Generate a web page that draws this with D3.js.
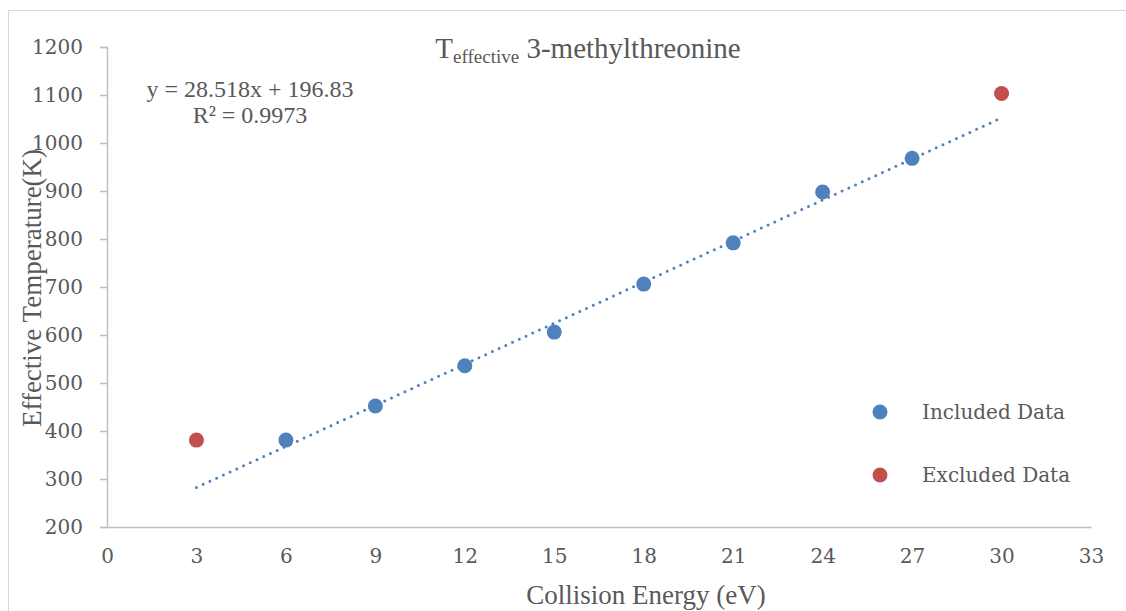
<!DOCTYPE html>
<html>
<head>
<meta charset="utf-8">
<script src="https://cdn.jsdelivr.net/npm/d3@7"></script>
<style>
  body { margin: 0; background: #fff; }
  svg { display: block; }
</style>
</head>
<body>
<div id="chart"></div>
<script>
// Data
const includedX = [6, 9, 12, 15, 18, 21, 24, 27];
const includedY = [381, 452, 536, 606, 706, 792, 898, 968];
const excludedX = [3, 30];
const excludedY = [381, 1103];
const fitSlope = 28.518;
const fitIntercept = 196.83;
const fitRange = [3, 30];
const xTicks = [0, 3, 6, 9, 12, 15, 18, 21, 24, 27, 30, 33];
const yTicks = [200, 300, 400, 500, 600, 700, 800, 900, 1000, 1100, 1200];

const width = 1126;
const height = 611;
const BLUE = "#4F81BD";
const RED = "#C0504D";
const TEXT = "#595959";
const AXIS = "#BFBFBF";

const svg = d3.select("#chart")
    .append("svg")
    .attr("width", width)
    .attr("height", height);

// Chart area border
svg.append("rect")
    .attr("x", 8.5)
    .attr("y", 10.5)
    .attr("width", width + 10)
    .attr("height", height + 10)
    .attr("fill", "none")
    .attr("stroke", "#D9D9D9");

const x = d3.scaleLinear().domain([0, 33]).range([107, 1091]);
const y = d3.scaleLinear().domain([200, 1200]).range([527, 47]);

// Y axis
const yAxis = svg.append("g")
    .attr("transform", `translate(${x(0)},0)`)
    .call(d3.axisLeft(y).tickValues(yTicks).tickFormat(d3.format("d")).tickSize(7).tickPadding(17));
yAxis.select(".domain").attr("stroke", AXIS).attr("stroke-width", 1.5);
yAxis.selectAll(".tick line").attr("stroke", AXIS).attr("stroke-width", 1.5);
yAxis.selectAll(".tick text")
    .attr("fill", TEXT)
    .attr("font-family", "DejaVu Serif")
    .attr("font-size", "20px");

// X axis
const xAxis = svg.append("g")
    .attr("transform", `translate(0,${y(200)})`)
    .call(d3.axisBottom(x).tickValues(xTicks).tickSize(0).tickPadding(22));
xAxis.select(".domain").attr("stroke", AXIS).attr("stroke-width", 1.5);
xAxis.selectAll(".tick text")
    .attr("fill", TEXT)
    .attr("font-family", "DejaVu Serif")
    .attr("font-size", "20px");

// Trendline (dotted)
const fitLine = d3.line()
    .x(d => x(d))
    .y(d => y(fitSlope * d + fitIntercept));
svg.append("path")
    .datum(fitRange)
    .attr("d", fitLine)
    .attr("fill", "none")
    .attr("stroke", BLUE)
    .attr("stroke-width", 3)
    .attr("stroke-linecap", "round")
    .attr("stroke-dasharray", "0 7.4");

// Points
svg.selectAll("circle.included")
    .data(includedX.map((v, i) => [v, includedY[i]]))
    .enter()
    .append("circle")
    .attr("class", "included")
    .attr("cx", d => x(d[0]))
    .attr("cy", d => y(d[1]))
    .attr("r", 7.5)
    .attr("fill", BLUE);

svg.selectAll("circle.excluded")
    .data(excludedX.map((v, i) => [v, excludedY[i]]))
    .enter()
    .append("circle")
    .attr("class", "excluded")
    .attr("cx", d => x(d[0]))
    .attr("cy", d => y(d[1]))
    .attr("r", 7.5)
    .attr("fill", RED);

// Title
const title = svg.append("text")
    .attr("x", 588)
    .attr("y", 58)
    .attr("text-anchor", "middle")
    .attr("fill", TEXT)
    .attr("font-family", "Liberation Serif")
    .attr("font-size", "29px");
title.append("tspan").text("T");
title.append("tspan").attr("font-size", "19px").attr("dy", 5).text("effective");
title.append("tspan").attr("dy", -5).text(" 3-methylthreonine");

// Equation
svg.append("text")
    .attr("x", 250).attr("y", 97)
    .attr("text-anchor", "middle")
    .attr("fill", TEXT)
    .attr("font-family", "Liberation Serif")
    .attr("font-size", "24px")
    .text(`y = ${fitSlope}x + ${fitIntercept}`);
svg.append("text")
    .attr("x", 250).attr("y", 123)
    .attr("text-anchor", "middle")
    .attr("fill", TEXT)
    .attr("font-family", "Liberation Serif")
    .attr("font-size", "24px")
    .text("R² = 0.9973");

// Axis titles
svg.append("text")
    .attr("x", 646).attr("y", 604)
    .attr("text-anchor", "middle")
    .attr("fill", TEXT)
    .attr("font-family", "Liberation Serif")
    .attr("font-size", "27px")
    .text("Collision Energy (eV)");
svg.append("text")
    .attr("transform", "translate(41,288) rotate(-90)")
    .attr("text-anchor", "middle")
    .attr("fill", TEXT)
    .attr("font-family", "Liberation Serif")
    .attr("font-size", "27px")
    .text("Effective Temperature(K)");

// Legend
const legendItems = [
    { label: "Included Data", color: BLUE },
    { label: "Excluded Data", color: RED }
];
const legend = svg.selectAll("g.legend")
    .data(legendItems)
    .enter()
    .append("g")
    .attr("class", "legend")
    .attr("transform", (d, i) => `translate(880,${412 + i * 63})`);
legend.append("circle")
    .attr("r", 7.5)
    .attr("fill", d => d.color);
legend.append("text")
    .attr("x", 42)
    .attr("y", 7)
    .attr("fill", TEXT)
    .attr("font-family", "DejaVu Serif")
    .attr("font-size", "20px")
    .text(d => d.label);
</script>
</body>
</html>
